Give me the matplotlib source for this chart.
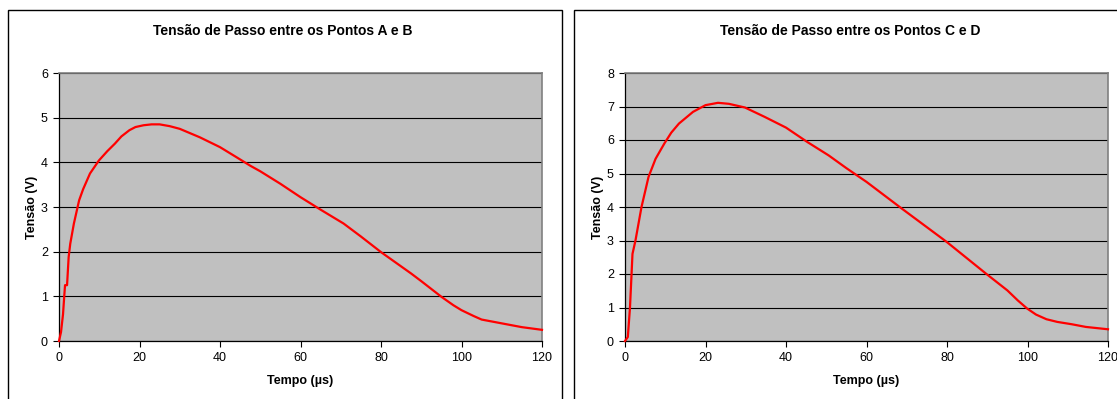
import matplotlib
matplotlib.use("Agg")
import matplotlib.pyplot as plt
from matplotlib.patches import Rectangle

plt.rcParams["font.family"] = ["Liberation Sans", "DejaVu Sans"]

# === Data ==================================================================
t_ab = [0, 0.5, 1.0, 1.3, 1.5, 2.0, 2.4, 2.8, 3.7, 5.0, 6.0, 7.7, 9.9, 12.0,
        13.9, 15.5, 17.5, 19.0, 21.0, 23.0, 25.0, 27.5, 30.0, 35.0, 40.0,
        44.0, 47.6, 50.0, 55.0, 60.0, 65.0, 70.7, 75.0, 80.0, 87.5, 90.0,
        95.0, 98.0, 100.0, 103.0, 105.0, 109.7, 115.0, 120.0]
v_ab = [0, 0.2, 0.6, 1.0, 1.25, 1.25, 1.88, 2.18, 2.63, 3.15, 3.4, 3.75,
        4.04, 4.25, 4.42, 4.58, 4.72, 4.79, 4.83, 4.85, 4.85, 4.81, 4.75,
        4.56, 4.34, 4.12, 3.92, 3.8, 3.52, 3.22, 2.94, 2.63, 2.34, 1.99, 1.51,
        1.34, 0.99, 0.8, 0.69, 0.56, 0.48, 0.4, 0.31, 0.25]

t_cd = [0, 0.7, 1.24, 1.86, 2.6, 4.1, 5.85, 7.6, 9.8, 11.5, 13.4, 16.9,
        20.0, 23.1, 25.8, 29.8, 34.7, 40.0, 45.3, 50.6, 55.0, 60.0, 68.8,
        79.9, 89.7, 95.0, 97.6, 99.9, 102.1, 104.7, 107.4, 111.0, 114.5,
        120.0]
v_cd = [0, 0.12, 1.0, 2.6, 3.0, 4.0, 4.9, 5.44, 5.9, 6.22, 6.49, 6.84,
        7.04, 7.11, 7.08, 6.97, 6.69, 6.37, 5.94, 5.54, 5.16, 4.75, 3.95,
        2.96, 2.01, 1.51, 1.21, 0.97, 0.79, 0.65, 0.57, 0.5, 0.42, 0.35]

titles = ["Tensão de Passo entre os Pontos A e B",
          "Tensão de Passo entre os Pontos C e D"]
y_max = [6, 8]
x_ticks = [0, 20, 40, 60, 80, 100, 120]

W, H = 1117, 399
fig = plt.figure(figsize=(W / 100, H / 100), dpi=100)
fig.patch.set_facecolor("white")

# chart frames (pixel coords -> figure fraction)
for x0, x1 in [(8, 562), (574, 1125)]:
    fig.patches.append(Rectangle((x0 / W, -0.05), (x1 - x0) / W, 1.05 - 10 / H,
                                 transform=fig.transFigure, fill=False,
                                 edgecolor="black", linewidth=1.0))

axes_px = [(59, 542), (625, 1108)]
title_x = [283, 850]
series = [(t_ab, v_ab), (t_cd, v_cd)]

for i, ax_px in enumerate(axes_px):
    left, right = ax_px
    ax = fig.add_axes([left / W, 1 - 341 / H, (right - left) / W, (341 - 73) / H])
    ax.set_facecolor("#C0C0C0")
    t, v = series[i]
    ax.plot(t, v, color="#FF0000", linewidth=1.6, clip_on=False, zorder=3,
            solid_joinstyle="round")
    ax.set_xlim(0, 120)
    ax.set_ylim(0, y_max[i])
    ax.set_xticks(x_ticks)
    ax.set_yticks(range(0, y_max[i] + 1))
    ax.yaxis.grid(True, color="black", linewidth=0.8)
    ax.set_axisbelow(True)
    for s in ["top", "right"]:
        ax.spines[s].set_color("#808080")
        ax.spines[s].set_linewidth(1.2)
    for s in ["left", "bottom"]:
        ax.spines[s].set_color("black")
        ax.spines[s].set_linewidth(0.9)
    ax.tick_params(direction="out", length=4, width=0.8, labelsize=9,
                   pad=4)
    ax.set_xlabel("Tempo (\u00b5s)", fontsize=9, fontweight="bold", labelpad=8)
    ax.set_ylabel("Tensão (V)", fontsize=9, fontweight="bold", labelpad=2)
    fig.text(title_x[i] / W, 1 - 31 / H, titles[i], ha="center", va="center",
             fontsize=10, fontweight="bold")

fig.savefig("out.png", dpi=100)
